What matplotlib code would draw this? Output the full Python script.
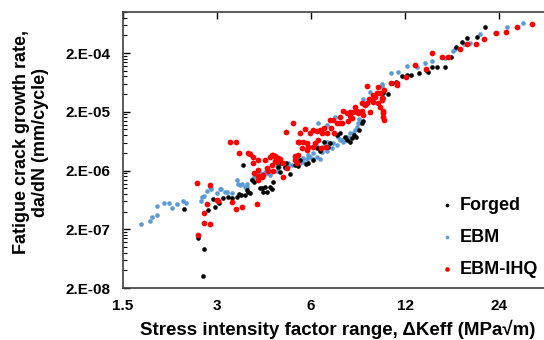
import matplotlib
matplotlib.use("Agg")
import matplotlib.pyplot as plt
from matplotlib.ticker import FixedLocator, NullFormatter

plt.rcParams['font.family'] = ['Liberation Sans', 'DejaVu Sans']
plt.rcParams['font.weight'] = 'bold'

# Forged
forged_x = [2.36, 2.61, 2.72, 2.70, 2.81, 2.95, 2.91, 3.04, 3.13, 3.25, 3.35, 3.48, 3.53, 3.64,
            3.69, 3.78, 3.83, 3.95, 4.09, 4.18, 4.21, 4.34, 4.43, 4.50, 4.53, 4.71, 4.78, 4.95,
            5.14, 5.33, 5.45, 3.57, 3.75, 3.89, 4.12, 4.28, 4.78, 5.00, 5.53, 5.78, 6.07, 6.28,
            6.41, 6.62, 6.90, 7.27, 7.43, 7.70, 7.85, 8.12, 8.24, 8.55, 8.74, 8.81, 10.2, 10.6,
            10.9, 5.87, 6.80, 8.00, 8.37, 11.24, 11.75, 12.5, 13.3, 14.0, 14.6, 15.2, 16.1, 16.9,
            17.5, 18.3, 21.7, 20.4, 19.0, 14.2, 12.2, 10.2]
forged_y = [4.4e-7, 1.42e-7, 9.2e-8, 3.2e-8, 4.25e-7, 4.8e-7, 6.5e-7, 5.6e-7, 6.8e-7, 7.1e-7,
            6.8e-7, 7.1e-7, 8.0e-7, 2.48e-6, 7.6e-7, 8.6e-7, 8.3e-7, 1.28e-6, 1.55e-6, 1.01e-6,
            8.6e-7, 8.6e-7, 1.05e-6, 9.7e-7, 1.28e-6, 2.29e-6, 2.68e-6, 2.29e-6, 1.74e-6, 2.48e-6,
            2.38e-6, 7.6e-7, 9.3e-7, 1.37e-6, 1.01e-6, 1.05e-6, 1.88e-6, 2.68e-6, 3.0e-6, 2.58e-6,
            3.0e-6, 4.8e-6, 4.28e-6, 6.1e-6, 5.85e-6, 8.0e-6, 8.7e-6, 7.4e-6, 6.6e-6, 7.1e-6,
            8.0e-6, 9.8e-6, 1.28e-5, 1.39e-5, 4.2e-5, 4.0e-5, 6.2e-5, 2.68e-6, 5.0e-6, 6.1e-6,
            7.4e-6, 6.45e-5, 8.15e-5, 8.5e-5, 9.2e-5, 1.03e-4, 1.16e-4, 1.16e-4, 1.16e-4, 1.72e-4,
            2.54e-4, 3.1e-4, 5.55e-4, 3.75e-4, 3.61e-4, 9.5e-5, 8.5e-5, 3.45e-5]

# EBM
ebm_x = [1.71, 1.83, 1.86, 1.93, 1.93, 2.03, 2.11, 2.15, 2.23, 2.33, 2.39, 2.67, 2.69, 2.72,
         2.79, 2.87, 3.00, 3.09, 3.23, 3.35, 3.48, 3.50, 3.55, 3.68, 3.74, 3.88, 3.95, 4.02,
         4.22, 4.27, 4.34, 4.44, 4.66, 4.75, 4.95, 5.10, 5.33, 5.44, 2.85, 3.07, 3.18, 3.61,
         3.75, 4.12, 4.37, 4.67, 5.05, 5.22, 5.41, 5.53, 5.66, 5.83, 5.96, 6.11, 6.28, 6.41,
         6.51, 6.62, 6.76, 7.01, 7.06, 7.27, 7.43, 7.60, 7.83, 8.00, 8.18, 8.31, 8.43, 8.49,
         8.55, 6.32, 6.76, 7.17, 8.81, 9.27, 10.1, 5.03, 5.66, 5.87, 6.11, 6.32, 6.55, 6.76,
         7.32, 7.54, 7.70, 8.00, 8.61, 10.83, 12.2, 13.9, 16.1, 17.4, 18.5, 28.6, 25.5, 23.3,
         20.9, 19.4, 17.1, 14.6, 13.1, 11.4, 10.1]
ebm_y = [2.46e-7, 2.76e-7, 3.2e-7, 3.5e-7, 5.0e-7, 5.6e-7, 5.6e-7, 4.6e-7, 5.4e-7, 6.0e-7,
         5.6e-7, 6.0e-7, 7.1e-7, 7.3e-7, 9.0e-7, 9.7e-7, 8.3e-7, 9.7e-7, 8.6e-7, 8.3e-7,
         1.38e-6, 1.2e-6, 1.12e-6, 1.05e-6, 1.2e-6, 1.44e-6, 1.55e-6, 1.68e-6, 1.74e-6, 1.89e-6,
         1.82e-6, 1.68e-6, 1.96e-6, 2.3e-6, 2.2e-6, 2.5e-6, 3.4e-6, 2.7e-6, 1.05e-6, 9.7e-7,
         8.6e-7, 1.18e-6, 1.05e-6, 1.8e-6, 2.04e-6, 2.38e-6, 2.68e-6, 2.48e-6, 3.4e-6, 2.68e-6,
         2.8e-6, 3.1e-6, 3.4e-6, 3.1e-6, 3.4e-6, 3.1e-6, 4.1e-6, 4.8e-6, 4.28e-6, 4.8e-6,
         5.85e-6, 5.4e-6, 6.6e-6, 6.1e-6, 7.4e-6, 7.1e-6, 8.7e-6, 9.8e-6, 1.1e-5, 1.28e-5,
         1.5e-5, 1.28e-5, 1.18e-5, 1.63e-5, 3.3e-5, 4.36e-5, 5.9e-5, 2.29e-6, 3.25e-6, 3.66e-6,
         3.96e-6, 5.0e-6, 5.0e-6, 6.1e-6, 7.4e-6, 6.6e-6, 7.1e-6, 8.7e-6, 1.28e-5, 9.2e-5,
         1.2e-4, 1.35e-4, 1.65e-4, 2.34e-4, 2.85e-4, 6.5e-4, 5.55e-4, 4.39e-4, 4.2e-4, 2.97e-4,
         2.16e-4, 1.47e-4, 1.16e-4, 9.5e-5, 5.5e-5]

# EBM-IHQ
ihq_x = [2.59, 2.85, 2.79, 2.72, 2.72, 2.85, 2.61, 3.00, 3.02, 3.35, 3.44, 3.61, 3.53, 3.78,
         3.92, 4.03, 4.06, 4.21, 4.37, 4.53, 4.53, 4.60, 4.71, 4.67, 5.03, 5.33, 3.30, 3.46,
         3.83, 4.18, 4.06, 4.50, 4.78, 4.60, 4.88, 5.26, 4.99, 5.53, 5.74, 5.96, 6.28, 5.49,
         5.83, 5.87, 6.19, 6.32, 6.46, 6.71, 6.76, 6.96, 7.11, 7.43, 7.60, 7.83, 8.00, 8.18,
         8.49, 8.81, 8.31, 8.74, 8.94, 9.10, 9.41, 9.60, 9.80, 9.98, 10.1, 10.2, 10.2, 9.10,
         9.48, 9.98, 7.43, 7.06, 7.88, 6.51, 4.43, 4.06, 3.95, 4.34, 4.88, 5.33, 5.41, 4.28,
         3.92, 4.06, 14.6, 15.8, 16.5, 18.0, 12.9, 12.1, 11.3, 10.3, 9.77, 9.84, 9.20, 9.48,
         10.2, 10.3, 9.27, 8.74, 8.43, 8.12, 8.00, 7.54, 7.27, 6.90, 6.62, 6.41, 6.07, 5.66,
         5.45, 6.11, 5.83, 5.62, 5.45, 4.50, 30.6, 27.4, 25.3, 23.5, 21.5, 20.2, 19.0, 14.0,
         11.3, 10.8, 10.1]
ihq_y = [1.23e-6, 1.14e-6, 5.4e-7, 3.8e-7, 2.56e-7, 2.46e-7, 1.6e-7, 6.3e-7, 6.0e-7, 5.8e-7,
         4.42e-7, 4.8e-7, 3.9e-6, 3.9e-6, 3.4e-6, 5.4e-7, 1.6e-6, 1.68e-6, 1.96e-6, 2.0e-6,
         3.66e-6, 3.52e-6, 3.25e-6, 2.8e-6, 2.2e-6, 3.0e-6, 6.1e-6, 6.1e-6, 3.8e-6, 1.55e-6,
         1.4e-6, 3.66e-6, 3.1e-6, 2.9e-6, 2.68e-6, 1.28e-5, 9.1e-6, 8.7e-6, 1.03e-5, 8.7e-6,
         9.4e-6, 6.1e-6, 5.85e-6, 5.0e-6, 5.85e-6, 6.6e-6, 4.8e-6, 5.0e-6, 8.7e-6, 1.05e-5,
         8.7e-6, 1.28e-5, 2.05e-5, 1.9e-5, 1.69e-5, 2.0e-5, 1.9e-5, 1.76e-5, 2.42e-5, 2.84e-5,
         2.62e-5, 2.84e-5, 3.2e-5, 3.58e-5, 2.84e-5, 2.42e-5, 3.2e-5, 1.9e-5, 1.63e-5, 5.5e-5,
         3.9e-5, 4.2e-5, 1.63e-5, 1.45e-5, 1.39e-5, 8.7e-6, 3.4e-6, 2.08e-6, 1.8e-6, 2.2e-6,
         1.55e-6, 3.52e-6, 2.68e-6, 3.0e-6, 2.68e-6, 3.0e-6, 2.0e-4, 1.72e-4, 1.72e-4, 2.34e-4,
         1.27e-4, 7.84e-5, 6.2e-5, 4.7e-5, 4.2e-5, 5.3e-5, 3.3e-5, 2.95e-5, 2.1e-5, 1.45e-5,
         2.0e-5, 2.1e-5, 2.1e-5, 1.56e-5, 2.0e-5, 1.28e-5, 1.28e-5, 1.45e-5, 1.07e-5, 9.8e-6,
         9.8e-6, 6.1e-6, 6.1e-6, 5.0e-6, 4.47e-6, 4.8e-6, 3.66e-6, 2.48e-6, 6.3e-4, 5.6e-4,
         4.6e-4, 4.4e-4, 3.5e-4, 2.85e-4, 2.85e-4, 1.07e-4, 5.7e-5, 6.2e-5, 3.4e-5]

x_ticks = [1.5, 3, 6, 12, 24]
x_labels = ['1.5', '3', '6', '12', '24']
y_ticks = [2e-8, 2e-7, 2e-6, 2e-5, 2e-4]
y_labels = ['2.E-08', '2.E-07', '2.E-06', '2.E-05', '2.E-04']

fig = plt.figure(figsize=(5.44, 3.4), dpi=100)
ax = fig.add_axes([123 / 544, 52 / 340, 470 / 544, 276 / 340])

ax.scatter(forged_x, forged_y, s=11, color='black', linewidths=0, label='Forged', zorder=3)
ax.scatter(ebm_x, ebm_y, s=11, color='#5B9BD5', linewidths=0, label='EBM', zorder=2)
ax.scatter(ihq_x, ihq_y, s=17, color='#FF0000', linewidths=0, label='EBM-IHQ', zorder=4)

ax.set_xscale('log', base=2)
ax.set_yscale('log')
ax.set_xlim(1.5, 48)
ax.set_ylim(2e-8, 1e-3)

ax.xaxis.set_major_locator(FixedLocator(x_ticks))
ax.set_xticklabels(x_labels)
ax.xaxis.set_minor_locator(FixedLocator([]))
ax.yaxis.set_major_locator(FixedLocator(y_ticks))
ax.set_yticklabels(y_labels)
minors = [b * k for b in y_ticks for k in range(2, 10)]
ax.yaxis.set_minor_locator(FixedLocator(minors))
ax.yaxis.set_minor_formatter(NullFormatter())

ax.tick_params(axis='x', which='both', direction='in', top=True, bottom=False,
               labelbottom=True, length=5, width=1, labelsize=11, pad=8)
ax.tick_params(axis='y', which='major', direction='in', length=5, width=1,
               labelsize=11, pad=9)
ax.tick_params(axis='y', which='minor', direction='in', length=3, width=0.8)
for lbl in ax.get_xticklabels() + ax.get_yticklabels():
    lbl.set_fontweight('bold')

for s in ['left', 'bottom', 'top']:
    ax.spines[s].set_color('#404040')
    ax.spines[s].set_linewidth(1.2)
ax.spines['right'].set_visible(False)

fig.text(338 / 544, 1 - 329 / 340, 'Stress intensity factor range, \u0394Keff (MPa\u221am)',
         ha='center', va='center', fontsize=13.5, fontweight='bold')
fig.text(31 / 544, 1 - 142 / 340, 'Fatigue crack growth rate,\nda/dN (mm/cycle)',
         ha='center', va='center', rotation=90, fontsize=13, fontweight='bold',
         multialignment='center', linespacing=1.2)

leg = ax.legend(loc='upper left', bbox_to_anchor=(442 / 544, 1 - 197 / 340),
                bbox_transform=fig.transFigure, frameon=False, fontsize=13,
                markerscale=0.8, handlelength=0.6, handletextpad=0.4,
                labelspacing=0.82, borderpad=0, borderaxespad=0)
for t in leg.get_texts():
    t.set_fontweight('bold')

fig.savefig('out.png', dpi=100)
